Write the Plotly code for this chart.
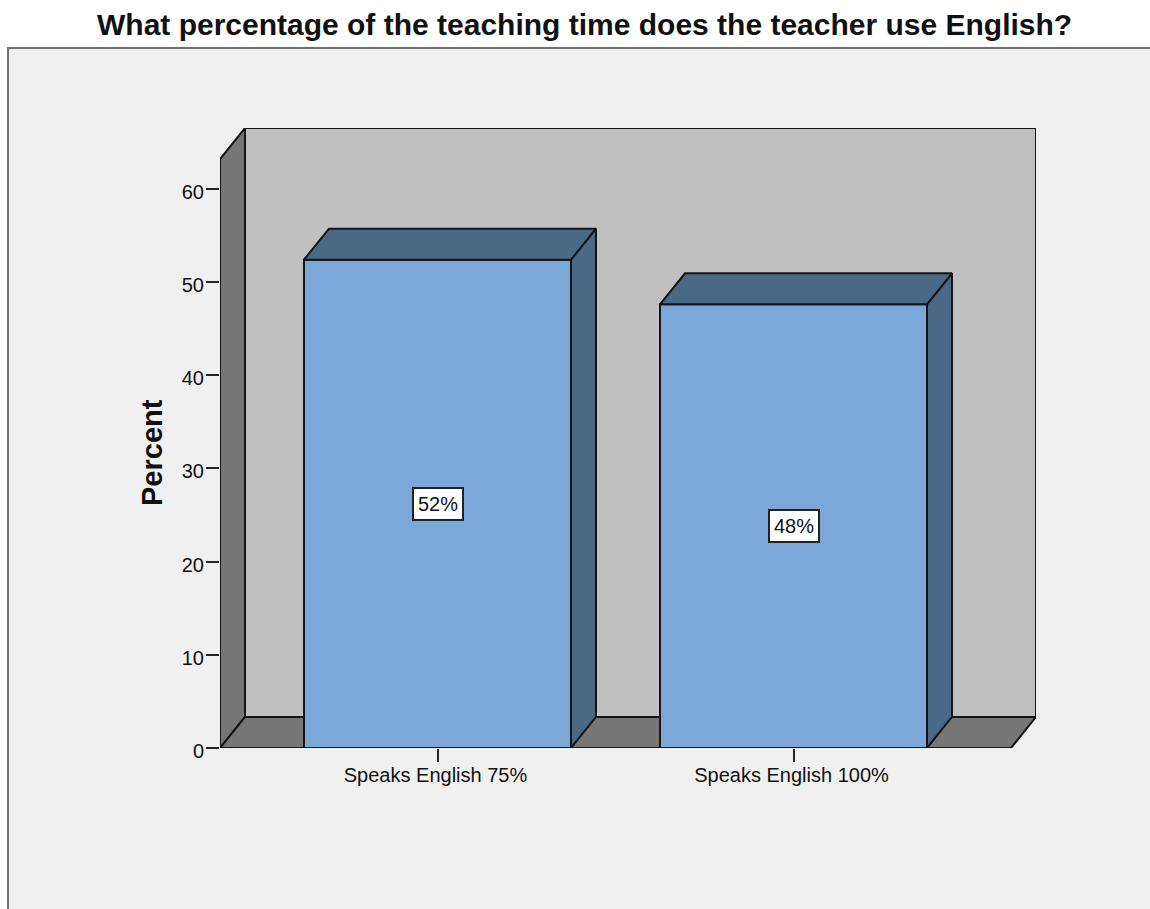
import plotly.graph_objects as go

categories = ["Speaks English 75%", "Speaks English 100%"]
percent_values = [52.4, 47.6]
percent_labels = ["52%", "48%"]
y_ticks = [0, 10, 20, 30, 40, 50, 60]
title_text = "What percentage of the teaching time does the teacher use English?"
y_title = "Percent"

W, H = 1150, 909
L, R, T, B = 220, 1036, 128, 748
PX_PER_Y = 9.32
PX_PER_X = 356.0
X0_PX = 437.5

y_max = (B - T) / PX_PER_Y
x_min = (L - X0_PX) / PX_PER_X
x_max = (R - X0_PX) / PX_PER_X
dx = 25 / PX_PER_X
dy = 31 / PX_PER_Y
bar_w = 0.75

EDGE = "#141414"
FRONT = "#7ba8d8"
SIDE = "#4a6987"
WALL = "#c0c0c0"
DARK = "#777777"
LW = 2


def poly(xs, ys):
    return "M " + " L ".join(f"{a},{b}" for a, b in zip(xs, ys)) + " Z"


xf = x_max - dx  # front right edge
shapes = [
    dict(type="rect", xref="paper", yref="paper", layer="below",
         x0=(8 - L) / (R - L), x1=(1170 - L) / (R - L),
         y0=(B - 930) / (B - T), y1=(B - 48) / (B - T),
         fillcolor="#f0f0f0", line=dict(color="#707070", width=2)),
    dict(type="path", layer="below", xref="x", yref="y",
         path=poly([x_min + dx, x_max, x_max, x_min + dx], [dy, dy, y_max, y_max]),
         fillcolor=WALL, line=dict(color=EDGE, width=LW)),
    dict(type="path", layer="below", xref="x", yref="y",
         path=poly([x_min, x_min + dx, x_min + dx, x_min], [0, dy, y_max, y_max - dy]),
         fillcolor=DARK, line=dict(color=EDGE, width=LW)),
    dict(type="path", layer="below", xref="x", yref="y",
         path=poly([x_min, xf, x_max, x_min + dx], [0, 0, dy, dy]),
         fillcolor=DARK, line=dict(color=EDGE, width=LW)),
]

fig = go.Figure()
fig.add_trace(go.Bar(
    x=list(range(len(categories))), y=percent_values, width=bar_w,
    marker=dict(color=FRONT, line=dict(color=EDGE, width=LW)),
    hoverinfo="skip", showlegend=False,
))

for i, v in enumerate(percent_values):
    xl, xr = i - bar_w / 2, i + bar_w / 2
    fig.add_trace(go.Scatter(
        x=[xr, xr + dx, xr + dx, xr, xr], y=[0, dy, v + dy, v, 0],
        mode="lines", fill="toself", fillcolor=SIDE,
        line=dict(color=EDGE, width=LW), hoverinfo="skip", showlegend=False))
    fig.add_trace(go.Scatter(
        x=[xl, xl + dx, xr + dx, xr, xl], y=[v, v + dy, v + dy, v, v],
        mode="lines", fill="toself", fillcolor=SIDE,
        line=dict(color=EDGE, width=LW), hoverinfo="skip", showlegend=False))

annotations = [
    dict(x=i, y=v / 2, xref="x", yref="y", text=percent_labels[i], showarrow=False,
         font=dict(family="Liberation Sans", size=20, color="#111111"),
         bgcolor="white", bordercolor="#222222", borderwidth=2, borderpad=4)
    for i, v in enumerate(percent_values)
]
annotations.append(dict(
    xref="paper", yref="paper", x=(152 - L) / (R - L), y=(B - 453) / (B - T),
    text=f"<b>{y_title}</b>", textangle=-90, showarrow=False,
    xanchor="center", yanchor="middle",
    font=dict(family="Liberation Sans", size=29, color="#111111")))
annotations.append(dict(
    xref="paper", yref="paper", x=(584 - L) / (R - L), y=(B - 24) / (B - T),
    text=f"<b>{title_text}</b>", showarrow=False,
    xanchor="center", yanchor="middle",
    font=dict(family="Liberation Sans", size=30, color="#111111")))

fig.update_layout(
    width=W, height=H,
    margin=dict(l=L, r=W - R, t=T, b=H - B, pad=0),
    paper_bgcolor="white", plot_bgcolor="rgba(0,0,0,0)",
    showlegend=False, hovermode=False,
    shapes=shapes, annotations=annotations,
    xaxis=dict(range=[x_min, x_max], tickvals=list(range(len(categories))),
               ticktext=categories, ticks="outside", ticklen=13, tickwidth=1.5,
               tickcolor="#222222", showgrid=False, zeroline=False, showline=False,
               ticklabelstandoff=-4, ticklabelshift=-2,
               tickfont=dict(family="Liberation Sans", size=20, color="#111111")),
    yaxis=dict(range=[0, y_max], tickvals=y_ticks, ticks="outside", ticklen=13,
               tickwidth=1.5, tickcolor="#222222", showgrid=False, zeroline=False,
               showline=False, ticklabelstandoff=-2, ticklabelshift=3,
               tickfont=dict(family="Liberation Sans", size=20, color="#111111")),
)

fig.write_html("out.html", config=dict(displayModeBar=False),
               post_script="document.body.style.margin='0';document.documentElement.style.overflow='hidden';")
